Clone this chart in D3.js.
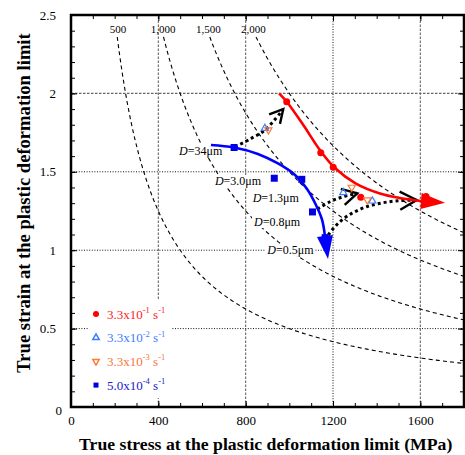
<!DOCTYPE html>
<html><head><meta charset="utf-8">
<script src="https://cdn.jsdelivr.net/npm/d3@7"></script>
<style>body{margin:0;background:#fff}svg{display:block}</style>
</head><body><svg id="c" width="465" height="455"></svg>
<script>
// ---- data ----
const xTicks = [0, 400, 800, 1200, 1600];
const yTicks = [0, 0.5, 1, 1.5, 2, 2.5];
const energyLevels = [500, 1000, 1500, 2000];
const energyLabels = ["500", "1,000", "1,500", "2,000"];
const rateMant = ["3.3x10", "3.3x10", "3.3x10", "5.0x10"];
const rateExp = ["-1", "-2", "-3", "-4"];
// measured points (stress MPa, strain)
const red_sigma = [988, 1144, 1201, 1327, 1626];
const red_eps = [1.947, 1.622, 1.529, 1.337, 1.343];
const ltblue_sigma = [888, 1247, 1380];
const ltblue_eps = [1.777, 1.367, 1.314];
const orange_sigma = [904, 1286, 1357];
const orange_eps = [1.767, 1.401, 1.320];
const navy_sigma = [747, 931, 1057, 1106, 1164];
const navy_eps = [1.655, 1.459, 1.452, 1.244, 1.08];
// trend curves
const redTrend_sigma = [953, 989, 1067, 1140, 1209, 1305, 1415, 1507, 1603];
const redTrend_eps = [2.0, 1.945, 1.792, 1.639, 1.524, 1.425, 1.362, 1.333, 1.314];
const redTip = [1713, 1.303];
const blueTrend_sigma = [641, 747, 856, 948, 1026, 1081, 1122, 1150, 1163];
const blueTrend_eps = [1.671, 1.655, 1.614, 1.553, 1.480, 1.390, 1.288, 1.193, 1.091];
const blueTip = [1177, 0.944];
// dotted transition paths
const path1_sigma = [751, 820, 889, 972];
const path1_eps = [1.658, 1.709, 1.767, 1.899];
const path2_sigma = [1105, 1186, 1247, 1311];
const path2_eps = [1.242, 1.309, 1.341, 1.363];
const path3_sigma = [1178, 1224, 1286, 1354, 1430, 1507, 1583];
const path3_eps = [1.097, 1.172, 1.235, 1.277, 1.303, 1.316, 1.320];
// grain size annotations
const grainLabels = ["34", "3.0", "1.3", "0.8", "0.5"];
const grain_sigma = [495, 659, 832, 838, 899];
const grain_eps = [1.607, 1.416, 1.307, 1.154, 0.976];

// ---- chart ----
const svg = d3.select("#c");
const FONT = "'Liberation Serif','Times New Roman',serif";
const x = d3.scaleLinear([0, 1800], [71, 464]);
const y = d3.scaleLinear([0, 2.5], [407, 15]);
const zip = (a, b) => a.map((v, i) => [v, b[i]]);
const line = d3.line().x(d => x(d[0])).y(d => y(d[1]));

// grid
const coarse = {stroke: "#666", dash: "2.5,1.5", w: 1.1};
const fine = {stroke: "#111", dash: "1,1.6", w: 1};
const gx = [[400, coarse], [800, coarse], [1200, fine], [1600, coarse]];
const gy = [[0.5, fine], [1, fine], [1.5, fine], [2, coarse]];
const grid = svg.append("g");
gx.forEach(([v, s]) => grid.append("line").attr("x1", x(v)).attr("x2", x(v)).attr("y1", y(0)).attr("y2", y(2.5))
  .attr("stroke", s.stroke).attr("stroke-width", s.w).attr("stroke-dasharray", s.dash));
gy.forEach(([v, s]) => grid.append("line").attr("y1", y(v)).attr("y2", y(v)).attr("x1", x(0)).attr("x2", x(1800))
  .attr("stroke", s.stroke).attr("stroke-width", s.w).attr("stroke-dasharray", s.dash));

// iso-energy hyperbolas (sigma * eps = const)
const hyp = svg.append("g");
energyLevels.forEach((E, i) => {
  const s0 = E / 2.36;
  const pts = d3.range(0, 201).map(k => { const s = s0 + (1800 - s0) * k / 200; return [s, E / s]; });
  hyp.append("path").attr("d", line(pts)).attr("fill", "none").attr("stroke", "#000")
    .attr("stroke-width", 1.1).attr("stroke-dasharray", "4,3.2");
  hyp.append("text").attr("x", x(E / 2.42) + 2).attr("y", 33).attr("text-anchor", "middle")
    .attr("font-family", FONT).attr("font-size", 11).text(energyLabels[i]);
});

// grain-size labels with white backgrounds
const gl = svg.append("g");
grainLabels.forEach((g, i) => {
  const t = gl.append("text").attr("x", x(grain_sigma[i])).attr("y", y(grain_eps[i]))
    .attr("font-family", FONT).attr("font-size", 12);
  t.append("tspan").attr("font-style", "italic").text("D");
  t.append("tspan").text("=" + g + "\u03bcm");
  const bb = t.node().getBBox();
  gl.insert("rect", "text").attr("x", bb.x - 1).attr("y", bb.y + 1).attr("width", bb.width + 2)
    .attr("height", bb.height - 2).attr("fill", "#fff");
});

// dotted transition paths + chevrons
const smooth = d3.line().x(d => x(d[0])).y(d => y(d[1])).curve(d3.curveCatmullRom);
function chevron(pts, len, half) {
  const a = pts[pts.length - 2], b = pts[pts.length - 1];
  const tx = x(b[0]), ty = y(b[1]);
  const ang = Math.atan2(ty - y(a[1]), tx - x(a[0])) + Math.PI;
  const p1 = [tx + len * Math.cos(ang + half), ty + len * Math.sin(ang + half)];
  const p2 = [tx + len * Math.cos(ang - half), ty + len * Math.sin(ang - half)];
  return `M${p1}L${tx},${ty}L${p2}`;
}
[[path1_sigma, path1_eps, 15], [path2_sigma, path2_eps, 17], [path3_sigma, path3_eps, 19]].forEach(([s, e, L]) => {
  const pts = zip(s, e);
  svg.append("path").attr("d", smooth(pts)).attr("fill", "none").attr("stroke", "#000")
    .attr("stroke-width", 3).attr("stroke-dasharray", "3,3");
  svg.append("path").attr("d", chevron(pts, L, 0.5)).attr("fill", "none").attr("stroke", "#000")
    .attr("stroke-width", 2.4).attr("stroke-linejoin", "miter");
});

// trend curves with arrowheads
function arrowHead(base, tip, hw) {
  const bx = x(base[0]), by = y(base[1]), tx = x(tip[0]), ty = y(tip[1]);
  const dx = tx - bx, dy = ty - by, L = Math.hypot(dx, dy);
  const nx = -dy / L * hw, ny = dx / L * hw;
  return `M${bx + nx},${by + ny}L${tx},${ty}L${bx - nx},${by - ny}Z`;
}
const redPts = zip(redTrend_sigma, redTrend_eps);
const bluePts = zip(blueTrend_sigma, blueTrend_eps);

// navy squares (under blue line)
const navyC = "#0000e0";
svg.append("g").selectAll("rect").data(zip(navy_sigma, navy_eps)).join("rect")
  .attr("x", d => x(d[0]) - 3.5).attr("y", d => y(d[1]) - 3.5).attr("width", 7).attr("height", 7).attr("fill", navyC);

svg.append("path").attr("d", smooth(bluePts)).attr("fill", "none").attr("stroke", "#0000ff").attr("stroke-width", 2.6);
svg.append("path").attr("d", arrowHead(bluePts[bluePts.length - 1], blueTip, 8)).attr("fill", "#0000ff");
svg.append("path").attr("d", smooth(redPts)).attr("fill", "none").attr("stroke", "#ff0000").attr("stroke-width", 2.6);

// markers
const redC = "#ff0000", ltC = "#3d7dff", orC = "#ff7a30";
svg.append("g").selectAll("circle").data(zip(red_sigma, red_eps)).join("circle")
  .attr("cx", d => x(d[0])).attr("cy", d => y(d[1])).attr("r", 3.5).attr("fill", redC);
svg.append("path").attr("d", arrowHead(redPts[redPts.length - 1], redTip, 8)).attr("fill", "#ff0000");
const triUp = d3.symbol(d3.symbolTriangle, 22);
const tri = (g, data, c, flip) => g.selectAll("path").data(data).join("path")
  .attr("d", triUp).attr("transform", d => `translate(${x(d[0])},${y(d[1])})${flip ? " rotate(180)" : ""}`)
  .attr("fill", "#fff").attr("fill-opacity", 0).attr("stroke", c).attr("stroke-width", 1.2);
tri(svg.append("g"), zip(ltblue_sigma, ltblue_eps), ltC, false);
tri(svg.append("g"), zip(orange_sigma, orange_eps), orC, true);

// legend
const leg = svg.append("g");
leg.append("rect").attr("x", 88).attr("y", 299).attr("width", 84).attr("height", 99).attr("fill", "#fff");
const legC = ["#ff1a1a", "#3d7dff", "#f5773a", "#2020c8"];
rateMant.forEach((m, i) => {
  const cy = 314 + i * 23.7;
  if (i === 0) leg.append("circle").attr("cx", 96).attr("cy", cy).attr("r", 3).attr("fill", redC);
  if (i === 1) leg.append("path").attr("d", d3.symbol(d3.symbolTriangle, 18)).attr("transform", `translate(96,${cy})`).attr("fill", "none").attr("stroke", ltC).attr("stroke-width", 1.5);
  if (i === 2) leg.append("path").attr("d", d3.symbol(d3.symbolTriangle, 18)).attr("transform", `translate(96,${cy}) rotate(180)`).attr("fill", "none").attr("stroke", orC).attr("stroke-width", 1.5);
  if (i === 3) leg.append("rect").attr("x", 93.5).attr("y", cy - 2.5).attr("width", 5).attr("height", 5).attr("fill", navyC);
  const t = leg.append("text").attr("x", 107).attr("y", cy + 4.5).attr("font-family", FONT).attr("font-size", 13).attr("fill", legC[i]);
  t.append("tspan").text(m);
  t.append("tspan").attr("font-size", 8.5).attr("dy", -5.5).text(rateExp[i]);
  t.append("tspan").attr("dy", 5.5).text(" s");
  t.append("tspan").attr("font-size", 8.5).attr("dy", -5.5).text("-1");
});

// axes
const ax = svg.append("g").attr("font-family", FONT);
const minorX = d3.range(0, 1801, 100), minorY = d3.range(0, 2.51, 0.1);
const style = g => { g.select(".domain").remove(); g.selectAll("line").attr("stroke", "#000").attr("stroke-width", 1); g.selectAll("text").attr("font-family", FONT).attr("font-size", 13).attr("fill", "#000"); };
ax.append("g").attr("transform", `translate(0,${y(0)})`).call(d3.axisBottom(x).tickValues(minorX).tickSize(-4).tickFormat("")).call(style);
ax.append("g").attr("transform", `translate(0,${y(2.5)})`).call(d3.axisTop(x).tickValues(minorX).tickSize(-4).tickFormat("")).call(style);
ax.append("g").attr("transform", `translate(${x(0)},0)`).call(d3.axisLeft(y).tickValues(minorY).tickSize(-4).tickFormat("")).call(style);
ax.append("g").attr("transform", `translate(${x(1800)},0)`).call(d3.axisRight(y).tickValues(minorY).tickSize(-4).tickFormat("")).call(style);
ax.append("g").attr("transform", `translate(0,${y(0)})`).call(d3.axisBottom(x).tickValues(xTicks).tickSize(-6).tickPadding(9).tickFormat(d3.format("d"))).call(style);
ax.append("g").attr("transform", `translate(0,${y(2.5)})`).call(d3.axisTop(x).tickValues(xTicks).tickSize(-6).tickFormat("")).call(style);
const yl = ax.append("g").attr("transform", `translate(${x(0)},0)`).call(d3.axisLeft(y).tickValues(yTicks).tickSize(-6).tickPadding(15).tickFormat(d => String(d))).call(style);
yl.selectAll("text").filter(d => d === 0).attr("x", -9).attr("dy", "0.55em");
ax.append("g").attr("transform", `translate(${x(1800)},0)`).call(d3.axisRight(y).tickValues(yTicks).tickSize(-6).tickFormat("")).call(style);
svg.append("rect").attr("x", x(0)).attr("y", y(2.5)).attr("width", x(1800) - x(0)).attr("height", y(0) - y(2.5))
  .attr("fill", "none").attr("stroke", "#000").attr("stroke-width", 2.5);

// titles
svg.append("text").attr("x", 265.7).attr("y", 450).attr("text-anchor", "middle").attr("font-family", FONT)
  .attr("font-weight", "bold").attr("font-size", 17.7).text("True stress at the plastic deformation limit (MPa)");
svg.append("text").attr("transform", "translate(29.5,203) rotate(-90)").attr("text-anchor", "middle").attr("font-family", FONT)
  .attr("font-weight", "bold").attr("font-size", 18.6).text("True strain at the plastic deformation limit");
</script></body></html>
